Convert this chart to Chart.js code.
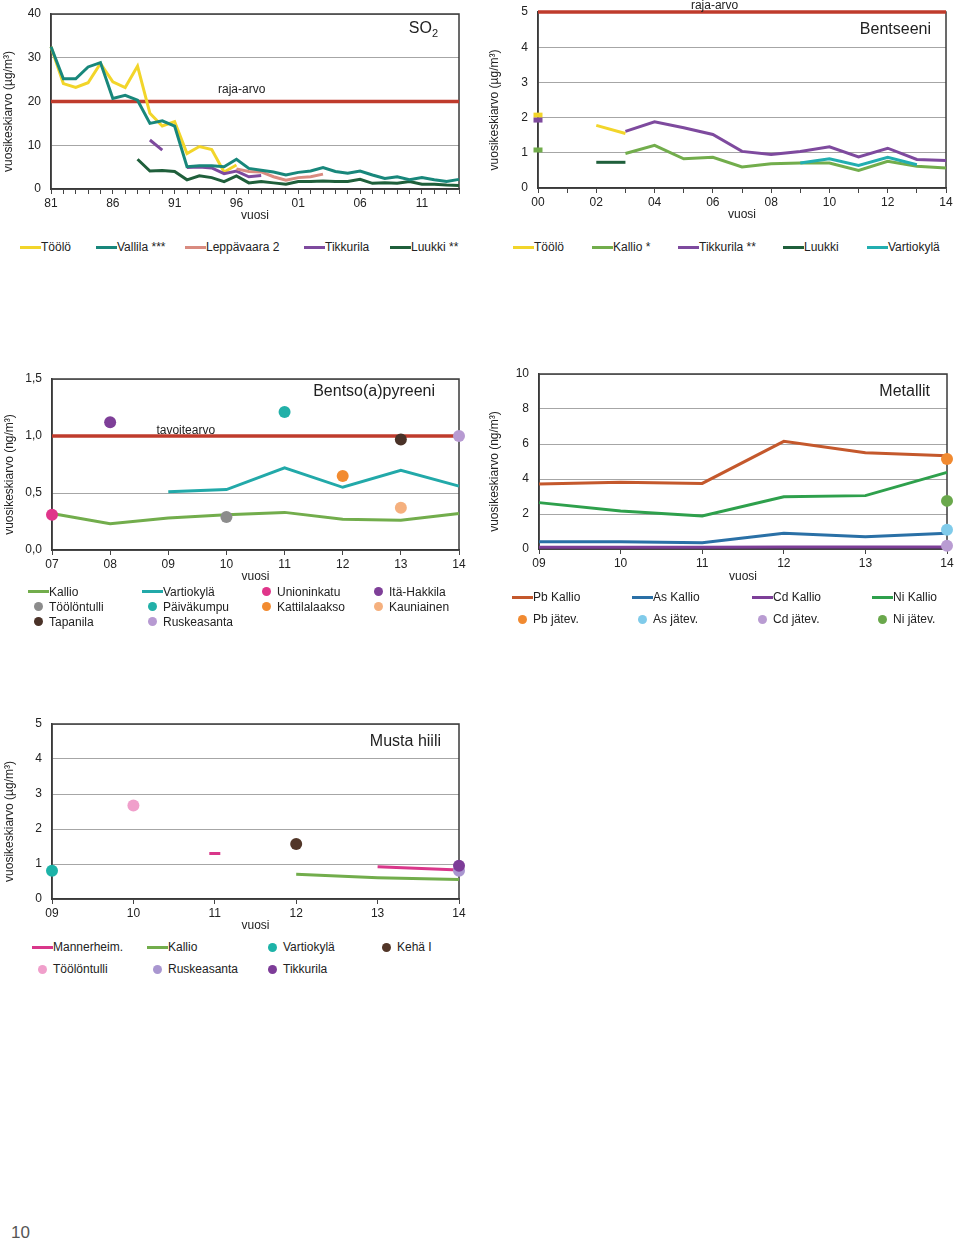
<!DOCTYPE html>
<html>
<head>
<meta charset="utf-8">
<script src="https://cdn.jsdelivr.net/npm/chart.js@4.4.1/dist/chart.umd.min.js"></script>
<style>
  body { margin: 0; width: 960px; height: 1244px; background: #fff; position: relative; overflow: hidden;
         font-family: "Liberation Sans", Arial, sans-serif; color: #222; }
  canvas { position: absolute; }
  .legend { position: absolute; display: grid; font-size: 12px; }
  .item { display: flex; align-items: center; white-space: nowrap; }
  .sw { width: 21px; height: 100%; position: relative; flex: none; }
  .sw.line::after { content: ''; position: absolute; left: 0; right: 0; top: 50%; height: 3px; margin-top: -1.5px; background: var(--c); }
  .sw.dot::after { content: ''; position: absolute; left: 6px; top: 50%; width: 9px; height: 9px; margin-top: -4.5px; border-radius: 50%; background: var(--c); }
  .page { position: absolute; left: 11px; top: 1223px; font-size: 17px; color: #555; }
</style>
</head>
<body>
<canvas id="so2" width="470" height="225" style="left:0;top:0"></canvas>
<canvas id="bz" width="480" height="224" style="left:480px;top:0"></canvas>
<canvas id="bap" width="470" height="226" style="left:0;top:360px"></canvas>
<canvas id="met" width="480" height="226" style="left:480px;top:360px"></canvas>
<canvas id="bc" width="470" height="225" style="left:0;top:710px"></canvas>

<div class="legend" id="lg-so2" style="left:20px;top:236px;grid-template-columns:76px 89px 119px 86px auto;grid-auto-rows:22px"></div>
<div class="legend" id="lg-bz" style="left:513px;top:236px;grid-template-columns:79px 86px 105px 84px auto;grid-auto-rows:22px"></div>
<div class="legend" id="lg-bap" style="left:28px;top:584px;grid-template-columns:114px 114px 112px auto;grid-auto-rows:15px"></div>
<div class="legend" id="lg-met" style="left:512px;top:586px;grid-template-columns:120px 120px 120px auto;grid-auto-rows:22px"></div>
<div class="legend" id="lg-bc" style="left:32px;top:936px;grid-template-columns:115px 115px 114px auto;grid-auto-rows:22px"></div>

<div class="page">10</div>

<script>
// --- SO2 (µg/m3), 1981-2014
const so2Years = ['81','82','83','84','85','86','87','88','89','90','91','92','93','94','95','96','97',
                  '98','99','00','01','02','03','04','05','06','07','08','09','10','11','12','13','14'];
const so2Toolo = [32.5, 24.1, 23.2, 24.3, 28.7, 24.5, 23.2, 28.1, 17.3, 14.4, 15.4, 8.1, 9.7, 9.0, 3.9, 5.5,
                  null, null, null, null, null, null, null, null, null, null, null, null, null, null, null, null, null, null];
const so2Vallila = [32.5, 25.2, 25.2, 27.9, 28.9, 20.7, 21.4, 20.3, 15.0, 15.6, 14.4, 5.1, 5.3, 5.3, 5.1, 6.8,
                    4.7, 4.3, 3.9, 3.2, 3.8, 4.1, 4.9, 4.0, 3.6, 4.1, 3.2, 2.4, 2.8, 2.1, 2.6, 2.1, 1.7, 2.2];
const so2Leppavaara = [null, null, null, null, null, null, null, null, null, null, null, null, null, null, null,
                       4.6, 4.0, 3.9, 2.8, 2.0, 2.6, 2.8, 3.4, null, null, null, null, null, null, null, null, null, null, null];
const so2Tikkurila = [null, null, null, null, null, null, null, null, 11.2, 8.9, null, 4.9, 5.0, 4.8, 3.5, 4.1,
                      2.8, 3.1, null, null, null, null, null, null, null, null, null, null, null, null, null, null, null, null];
const so2Luukki = [null, null, null, null, null, null, null, 6.8, 4.1, 4.2, 4.0, 2.1, 3.0, 2.6, 1.7, 3.0,
                   1.4, 1.7, 1.4, 1.1, 1.7, 1.7, 1.8, 1.7, 1.7, 2.2, 1.3, 1.4, 1.3, 1.7, 1.1, 1.1, 0.9, 0.8];
const so2Limit = 20;

// --- Bentseeni (µg/m3), 2000-2014
const bzYears = ['00','01','02','03','04','05','06','07','08','09','10','11','12','13','14'];
const bzToolo = [2.07, null, 1.78, 1.55, null, null, null, null, null, null, null, null, null, null, null];
const bzKallio = [1.08, null, null, 0.98, 1.21, 0.83, 0.87, 0.60, 0.69, 0.71, 0.71, 0.50, 0.76, 0.62, 0.57];
const bzTikkurila = [1.93, null, null, 1.61, 1.88, 1.71, 1.52, 1.04, 0.95, 1.04, 1.17, 0.88, 1.13, 0.81, 0.78];
const bzLuukki = [null, null, 0.73, 0.73, null, null, null, null, null, null, null, null, null, null, null];
const bzVartiokyla = [null, null, null, null, null, null, null, null, null, 0.71, 0.83, 0.64, 0.87, 0.66, null];
const bzLimit = 5;

// --- Bentso(a)pyreeni (ng/m3), 2007-2014
const bapYears = ['07','08','09','10','11','12','13','14'];
const bapKallio = [0.32, 0.23, 0.28, 0.31, 0.33, 0.27, 0.26, 0.32];
const bapVartiokyla = [null, null, 0.51, 0.53, 0.72, 0.55, 0.70, 0.56];
const bapUnioninkatu = [0.31, null, null, null, null, null, null, null];
const bapItaHakkila = [null, 1.12, null, null, null, null, null, null];
const bapToolontulli = [null, null, null, 0.29, null, null, null, null];
const bapPaivakumpu = [null, null, null, null, 1.21, null, null, null];
const bapKattilalaakso = [null, null, null, null, null, 0.65, null, null];
const bapKauniainen = [null, null, null, null, null, null, 0.37, null];
const bapTapanila = [null, null, null, null, null, null, 0.97, null];
const bapRuskeasanta = [null, null, null, null, null, null, null, 1.0];
const bapTarget = 1.0;

// --- Metallit (ng/m3), 2009-2014
const metYears = ['09','10','11','12','13','14'];
const metPbKallio = [3.71, 3.81, 3.75, 6.15, 5.50, 5.33];
const metAsKallio = [0.42, 0.42, 0.36, 0.90, 0.70, 0.90];
const metCdKallio = [0.10, 0.10, 0.10, 0.12, 0.12, 0.12];
const metNiKallio = [2.65, 2.17, 1.89, 2.99, 3.05, 4.38];
const metPbJatev = [null, null, null, null, null, 5.14];
const metAsJatev = [null, null, null, null, null, 1.10];
const metCdJatev = [null, null, null, null, null, 0.18];
const metNiJatev = [null, null, null, null, null, 2.75];

// --- Musta hiili (µg/m3), 2009-2014
const bcYears = ['09','10','11','12','13','14'];
const bcMannerheim = [null, null, 1.30, null, 0.92, 0.83];
const bcKallio = [null, null, null, 0.71, 0.61, 0.56];
const bcVartiokyla = [0.81, null, null, null, null, null];
const bcKeha = [null, null, null, 1.57, null, null];
const bcToolontulli = [null, 2.67, null, null, null, null];
const bcRuskeasanta = [null, null, null, null, null, 0.81];
const bcTikkurila = [null, null, null, null, null, 0.95];

const RED = '#bf3b2c';

const isolated = c => {
  const d = c.dataset.data, i = c.dataIndex;
  return d[i] != null && d[i - 1] == null && d[i + 1] == null;
};

function line(label, data, color, extra) {
  return Object.assign({ label, data, borderColor: color, backgroundColor: color, borderWidth: 3,
    pointRadius: 0, pointHoverRadius: 0, clip: false, spanGaps: false, order: 1 }, extra);
}
function dot(label, data, color, extra) {
  return Object.assign({ label, data, borderColor: color, backgroundColor: color, showLine: false,
    pointRadius: 6, pointHoverRadius: 6, pointBorderWidth: 0, clip: false, order: 0 }, extra);
}
function limit(labels, value) {
  return { label: 'limit', data: labels.map(() => value), borderColor: RED, backgroundColor: RED,
    borderWidth: 3.5, pointRadius: 0, pointHoverRadius: 0, clip: false, inLegend: false, order: 10 };
}
// single values drawn as short dashes, like the source chart
const dash = (r, w) => ({ pointStyle: 'line', pointRadius: c => isolated(c) ? r : 0, pointBorderWidth: w });

const decor = {
  id: 'decor',
  beforeDatasetsDraw(chart) {
    const { ctx, chartArea: a } = chart;
    ctx.save();
    ctx.strokeStyle = '#3a3a3a';
    ctx.lineWidth = 1.5;
    ctx.strokeRect(a.left, a.top, a.right - a.left, a.bottom - a.top);
    ctx.restore();
  },
  afterDatasetsDraw(chart, args, o) {
    const { ctx, chartArea: a, scales } = chart;
    ctx.save();
    ctx.fillStyle = '#222';
    // title inside plot, top right
    ctx.textBaseline = 'middle';
    ctx.textAlign = 'right';
    let right = a.right - o.titleRight;
    if (o.sub) {
      ctx.font = '11px "Liberation Sans", Arial';
      ctx.fillText(o.sub, right, a.top + o.titleY + 5);
      right -= ctx.measureText(o.sub).width;
    }
    ctx.font = '16px "Liberation Sans", Arial';
    ctx.fillText(o.title, right, a.top + o.titleY);
    // limit / target label
    if (o.limit) {
      ctx.font = '12px "Liberation Sans", Arial';
      ctx.textAlign = 'center';
      ctx.fillText(o.limit.text, scales.x.getPixelForValue(o.limit.x), scales.y.getPixelForValue(o.limit.value) + o.limit.dy);
    }
    // y axis title
    ctx.translate(o.yTitleX, (a.top + a.bottom) / 2 + 10);
    ctx.rotate(-Math.PI / 2);
    ctx.textAlign = 'center';
    ctx.font = '12px "Liberation Sans", Arial';
    ctx.fillText(o.yTitle, 0, 0);
    ctx.restore();
  }
};

function makeChart(id, s) {
  return new Chart(document.getElementById(id), {
    type: 'line',
    data: { labels: s.labels, datasets: s.datasets },
    options: {
      responsive: false,
      animation: false,
      events: [],
      layout: { padding: { top: s.padTop, right: s.padRight, left: 0, bottom: 0 } },
      plugins: { legend: { display: false }, tooltip: { enabled: false }, decor: s.decor },
      scales: {
        x: {
          offset: false,
          grid: { drawOnChartArea: false, drawTicks: true, tickLength: 5, color: '#444' },
          border: { color: '#3a3a3a', width: 1.5 },
          ticks: { autoSkip: false, maxRotation: 0, padding: 2, color: '#222', font: { size: 12 },
                   callback: (v, i) => i % s.every === 0 ? s.labels[i] : '' },
          title: { display: true, text: 'vuosi', color: '#222', font: { size: 12 }, padding: { top: 0, bottom: 2 } },
          afterFit: sc => { sc.height = s.xH; }
        },
        y: {
          min: 0, max: s.max,
          grid: { color: '#a6a6a6', lineWidth: 1, drawTicks: false },
          border: { color: '#3a3a3a', width: 1.5 },
          ticks: { stepSize: s.step, padding: 10, color: '#222', font: { size: 12 }, callback: s.fmt || (v => v) },
          afterFit: sc => { sc.width = s.yW; sc.paddingTop = 0; sc.paddingBottom = 0; }
        }
      }
    },
    plugins: [decor]
  });
}

function buildLegend(chart, id) {
  const el = document.getElementById(id);
  chart.data.datasets.filter(d => d.inLegend !== false).forEach(d => {
    const item = document.createElement('div');
    item.className = 'item';
    const sw = document.createElement('span');
    sw.className = 'sw ' + (d.showLine === false ? 'dot' : 'line');
    sw.style.setProperty('--c', d.borderColor);
    item.appendChild(sw);
    item.appendChild(document.createTextNode(d.label));
    el.appendChild(item);
  });
}

const comma = v => v.toFixed(1).replace('.', ',');

const so2 = makeChart('so2', {
  labels: so2Years, every: 5, max: 40, step: 10, padTop: 14, padRight: 11, yW: 51, xH: 36,
  decor: { title: 'SO', sub: '2', titleRight: 21, titleY: 15, yTitleX: 9, yTitle: 'vuosikeskiarvo (µg/m³)',
           limit: { text: 'raja-arvo', x: 15.42, value: so2Limit, dy: -11.5 } },
  datasets: [
    line('Töölö', so2Toolo, '#f2d52a', { order: 3 }),
    line('Vallila ***', so2Vallila, '#18877b', { order: 1 }),
    line('Leppävaara 2', so2Leppavaara, '#d98b80', { order: 2 }),
    line('Tikkurila', so2Tikkurila, '#7e4a9e', { order: 2 }),
    line('Luukki **', so2Luukki, '#1f5f3b', { order: 2 }),
    limit(so2Years, so2Limit)
  ]
});

const bz = makeChart('bz', {
  labels: bzYears, every: 2, max: 5, step: 1, padTop: 12, padRight: 14, yW: 58, xH: 36,
  decor: { title: 'Bentseeni', titleRight: 15, titleY: 18, yTitleX: 15, yTitle: 'vuosikeskiarvo (µg/m³)',
           limit: { text: 'raja-arvo', x: 6.06, value: bzLimit, dy: -6.5 } },
  datasets: [
    line('Töölö', bzToolo, '#f2d52a', Object.assign({ order: 2 }, dash(4.5, 5))),
    line('Kallio *', bzKallio, '#72ad4c', Object.assign({ order: 2 }, dash(4.5, 5))),
    line('Tikkurila **', bzTikkurila, '#7e4a9e', Object.assign({ order: 1 }, dash(4.5, 5))),
    line('Luukki', bzLuukki, '#1f5f3b', { order: 2 }),
    line('Vartiokylä', bzVartiokyla, '#22aeb0', { order: 0 }),
    limit(bzYears, bzLimit)
  ]
});

const bap = makeChart('bap', {
  labels: bapYears, every: 1, max: 1.5, step: 0.5, fmt: comma, padTop: 19, padRight: 11, yW: 52, xH: 36,
  decor: { title: 'Bentso(a)pyreeni', titleRight: 24, titleY: 13, yTitleX: 10, yTitle: 'vuosikeskiarvo (ng/m³)',
           limit: { text: 'tavoitearvo', x: 2.3, value: bapTarget, dy: -5 } },
  datasets: [
    line('Kallio', bapKallio, '#72ad4c'),
    line('Vartiokylä', bapVartiokyla, '#22a9a9'),
    dot('Unioninkatu', bapUnioninkatu, '#e0358a'),
    dot('Itä-Hakkila', bapItaHakkila, '#7e3f98'),
    dot('Töölöntulli', bapToolontulli, '#8c8c8c'),
    dot('Päiväkumpu', bapPaivakumpu, '#22b0a8'),
    dot('Kattilalaakso', bapKattilalaakso, '#f28b30'),
    dot('Kauniainen', bapKauniainen, '#f5b07e'),
    dot('Tapanila', bapTapanila, '#4a3228'),
    dot('Ruskeasanta', bapRuskeasanta, '#b79ad2'),
    limit(bapYears, bapTarget)
  ]
});

const met = makeChart('met', {
  labels: metYears, every: 1, max: 10, step: 2, padTop: 14, padRight: 13, yW: 59, xH: 37,
  decor: { title: 'Metallit', titleRight: 17, titleY: 18, yTitleX: 15, yTitle: 'vuosikeskiarvo (ng/m³)' },
  datasets: [
    line('Pb Kallio', metPbKallio, '#c4582c'),
    line('As Kallio', metAsKallio, '#2a70a6'),
    line('Cd Kallio', metCdKallio, '#7d3f98'),
    line('Ni Kallio', metNiKallio, '#2ea04c'),
    dot('Pb jätev.', metPbJatev, '#f18a31'),
    dot('As jätev.', metAsJatev, '#80cbea'),
    dot('Cd jätev.', metCdJatev, '#b99cd2'),
    dot('Ni jätev.', metNiJatev, '#6aa84c')
  ]
});

const bc = makeChart('bc', {
  labels: bcYears, every: 1, max: 5, step: 1, padTop: 14, padRight: 11, yW: 52, xH: 36,
  decor: { title: 'Musta hiili', titleRight: 18, titleY: 18, yTitleX: 10, yTitle: 'vuosikeskiarvo (µg/m³)' },
  datasets: [
    line('Mannerheim.', bcMannerheim, '#d9378a', dash(5.5, 3)),
    line('Kallio', bcKallio, '#72ad4c'),
    dot('Vartiokylä', bcVartiokyla, '#1db3a8'),
    dot('Kehä I', bcKeha, '#523628'),
    dot('Töölöntulli', bcToolontulli, '#f09fcb'),
    dot('Ruskeasanta', bcRuskeasanta, '#a996d0'),
    dot('Tikkurila', bcTikkurila, '#7d3c98', { order: -1 })
  ]
});

buildLegend(so2, 'lg-so2');
buildLegend(bz, 'lg-bz');
buildLegend(bap, 'lg-bap');
buildLegend(met, 'lg-met');
buildLegend(bc, 'lg-bc');
</script>
</body>
</html>
